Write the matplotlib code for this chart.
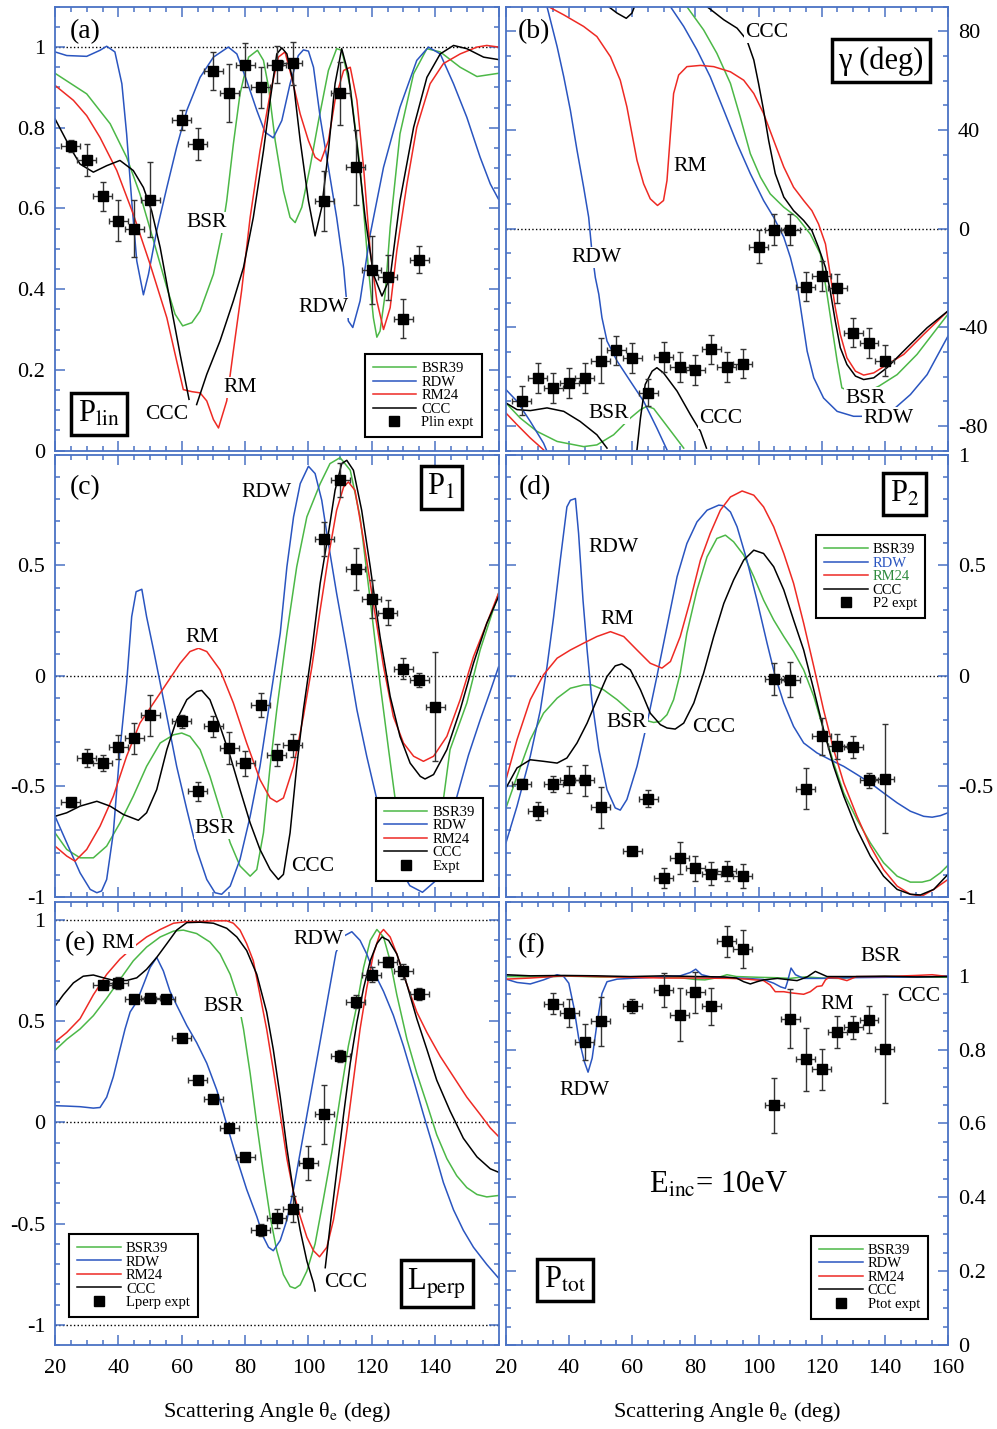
import numpy as np
import matplotlib
matplotlib.use('Agg')
import matplotlib.pyplot as plt
from matplotlib.lines import Line2D

plt.rcParams['font.family'] = ['Liberation Serif', 'DejaVu Serif']
plt.rcParams['mathtext.fontset'] = 'stix'

GREEN = '#4cb847'
BLUE = '#2a55c0'
RED = '#ee2a24'
FRAME = '#4a72c4'
gap = (np.nan, np.nan)

# ---------------- (a) P_lin ----------------
a_bsr = [(20,0.935),(30,0.884),(37.4,0.810),(42.6,0.727),(46.8,0.636),(51.1,0.520),(55.3,0.404),(57.9,0.338),
         (60.3,0.309),(63.2,0.317),(65.8,0.346),(70,0.437),(72.6,0.536),(74.2,0.619),(76.3,0.760),(78.4,0.884),
         (81.1,0.975),(83.9,0.992),(85.8,0.967),(87.4,0.901),(89.5,0.768),(92.1,0.644),(94.2,0.578),(95.8,0.565),
         (97.9,0.603),(100.5,0.702),(103.2,0.818),(106.3,0.942),(108.9,0.996),(110.5,0.992),(113.2,0.901),
         (116.3,0.702),(118.9,0.454),(120.5,0.329),(121.6,0.281),(122.6,0.296),(124.2,0.387),(125.8,0.553),
         (128.9,0.785),(133.2,0.934),(137.4,0.996),(141.6,0.988),(147.9,0.950),(153.2,0.927),(160,0.935)]
a_rdw = [(20,0.988),(23.7,0.979),(30,0.977),(34.2,0.992),(36.3,1.002),(38.9,0.988),(41.1,0.909),(42.6,0.785),
         (44.2,0.619),(45.8,0.470),(47.9,0.386),(49.5,0.437),(52.1,0.545),(55.3,0.652),(58.4,0.752),(61.6,0.843),
         (65.8,0.925),(70,0.975),(74.7,1.0),(77.4,0.983),(80.5,0.917),(83.7,0.843),(86.3,0.789),(88.9,0.775),
         (91.6,0.818),(94.2,0.909),(96.8,0.979),(98.4,0.993),(100,0.990),(101.6,0.950),(103.7,0.826),(106.3,0.702),
         (108.9,0.578),(111.1,0.454),(112.6,0.321),(114,0.305),(116.3,0.371),(119.5,0.536),(123.7,0.702),
         (128.9,0.851),(134.2,0.967),(137.9,1.0),(141.6,0.983),(145.8,0.909),(150,0.826),(154.2,0.727),
         (157.4,0.661),(160,0.623)]
a_rm = [(20,0.905),(25.8,0.868),(30,0.830),(34.2,0.776),(39.5,0.694),(44.7,0.586),(50,0.462),(55.3,0.329),
        (58.4,0.222),(60.5,0.151),(63.2,0.146),(65.8,0.143),(67.9,0.123),(70,0.077),(71.6,0.056),(74.2,0.123),
        (76.3,0.247),(78.9,0.396),(81.6,0.578),(84.7,0.743),(87.9,0.884),(90.5,0.975),(92.6,0.988),(94.7,0.925),
        (97.4,0.834),(100,0.768),(102.1,0.727),(103.9,0.717),(106.3,0.768),(108.4,0.868),(111.1,0.942),
        (113.2,0.950),(115.3,0.868),(117.4,0.702),(119.5,0.495),(121.6,0.371),(123.7,0.300),(125.8,0.354),
        (127.9,0.495),(131.1,0.661),(134.2,0.801),(138.4,0.909),(142.6,0.959),(147.9,0.983),(153.2,1.0),
        (156.3,1.004),(160,1.0)]
a_ccc = [(20,0.822),(24.7,0.752),(27.9,0.710),(32.1,0.690),(36.3,0.706),(40.5,0.719),(44.7,0.694),(47.9,0.652),
         (50.5,0.594),(53.2,0.503),(56.3,0.371),(59.5,0.238),(62.3,0.127),gap,(64.7,0.114),(67.9,0.189),
         (72.1,0.272),(76.3,0.371),(79.5,0.454),(82.6,0.578),(85.8,0.743),(87.9,0.868),(90,0.983),(91.6,0.998),
         (93.2,0.983),(95.3,0.909),(97.4,0.768),(100,0.619),(102.1,0.532),(104.2,0.603),(106.3,0.743),
         (108.4,0.909),(110.5,0.996),(112.6,0.934),(115.3,0.760),(117.9,0.578),(120.5,0.437),(123.2,0.383),
         (125.8,0.429),(128.9,0.619),(133.2,0.801),(137.4,0.925),(141.6,0.983),(145.8,1.004),(150,0.996),
         (155.3,0.975),(160,0.969)]
a_ex_x = [25,30,35,40,45,50,60,65,70,75,80,85,90,95,105,110,115,120,125,130,135]
a_ex_y = [0.754,0.720,0.630,0.570,0.550,0.622,0.819,0.759,0.940,0.887,0.956,0.900,0.956,0.960,0.618,0.885,
          0.702,0.447,0.429,0.327,0.473]
a_ex_err = [0.015,0.04,0.036,0.05,0.07,0.093,0.024,0.04,0.047,0.072,0.055,0.05,0.046,0.053,0.075,0.079,0.093,
            0.084,0.056,0.048,0.033]

# ---------------- (b) gamma ----------------
b_bsr = [(20,-70.7),(24.5,-76.8),(29.8,-82.2),(36.2,-86.3),(44.6,-88.4),(48.8,-87.7),(54.1,-83.6),(59.4,-76.8),
         (62.6,-73.4),(64.7,-72),(66.8,-73),(69.9,-78.2),(73.1,-83.6),(76.3,-89),gap,
         (77.3,90),(82.6,80.6),(86.8,71.1),(91.1,58.9),(94.2,45.3),(97.4,30.4),(100.6,20.9),(103.7,14.1),
         (108,8.7),(112.2,4.6),(116.4,-2.2),(119.6,-10.3),(121.7,-26.6),(123.3,-40.2),(124.9,-53.7),
         (126.4,-64.6),(132,-67.5),(138.1,-63.9),(143.9,-59.2),(150.2,-51),(160,-34.7)]
b_rdw = [(20,-65.3),(23.5,-70),(27.7,-78.2),(31.9,-87),(32.8,-89.7),gap,
         (33,90),(36.2,73.8),(38.3,61.6),(40.4,48),(42.5,31.8),(44.6,16.8),(46.2,4.6),(47.2,-9),(48.3,-19.8),
         (49.4,-26.6),(50.4,-36.1),(52,-45.6),(55.2,-53.7),(59.4,-61.9),(63.6,-70),(67.8,-80.9),(71,-89.7),gap,
         (72.1,90),(76.3,82),(80.5,72.5),(84.7,61.6),(89,48),(93.2,34.5),(97.4,22.3),(101.6,11.4),(104.8,4.6),
         (108,-3.5),(110.1,-11.7),(112.2,-22.5),(113.8,-36.1),(115.4,-49.7),(117.5,-60.5),(120.6,-68.7),
         (124.9,-74.1),(130.1,-76.1),(136.5,-76.1),(143.3,-72.7),(148.1,-67.3),(153.4,-59.2),(160,-43.6)]
b_rm = [(20,-74.8),(23.5,-79.5),(27.7,-84.9),(31.9,-89.7),gap,
        (33.5,90),(38.3,86.7),(44.6,82),(48.8,77.9),(53.1,69.7),(56.2,60.2),(58.3,49.4),(59.9,38.5),(61.5,27.7),
        (63.6,18.2),(65.7,12.1),(68,9.4),(69.9,11.4),(71,19.5),(72.1,38.5),(73.1,54.8),(74.7,62.3),(77.3,65.7),
        (81.6,66.2),(85.8,65.7),(91.1,63.6),(95.3,60.2),(98.5,54.8),(101.6,46.7),(104.8,35.8),(108,25),
        (111.1,16.8),(114.3,11.4),(116.9,7.3),(119,1.9),(121.2,-6.2),(122.7,-18.5),(124.3,-32),(125.9,-42.9),
        (128,-52.4),(130.7,-57.8),(133.3,-59.4),(136.5,-58.5),(140.7,-55.1),(146,-51),(152.3,-42.9),(160,-33.4)]
b_ccc = [(20,-70.7),(23.5,-73.4),(27.7,-73.8),(33,-72.7),(38.3,-74.1),(43.5,-78.2),(48.8,-83.6),(52,-89),gap,
         (52.5,90),(55.2,87.4),(58.1,85.3),(59.9,87.4),(60.7,90),gap,
         (61.5,-89.7),(62.6,-76.8),(64.1,-63.2),(66.3,-57.8),(67.8,-56.4),(69.9,-58.5),(74.2,-65.9),
         (78.4,-75.4),(81.6,-82.2),(83.5,-89),gap,
         (83.7,90),(89,84.7),(93.2,81.3),(96.3,76.5),(98.5,68.4),(100,58.9),(101.6,48),(103.2,35.8),
         (105.3,22.3),(108,12.8),(111.1,7.3),(114.3,3.3),(116.9,-0.8),(119,-7.6),(121.2,-15.7),(122.7,-25.2),
         (124.3,-37.4),(125.9,-48.3),(128,-55.1),(130.7,-59.8),(133.3,-61.2),(136.5,-60.5),(140.7,-56.4),
         (147,-48.3),(153.4,-40.2),(160,-33.4)]
b_ex_x = [25,30,35,40,45,50,55,60,65,70,75,80,85,90,95,100,105,110,115,120,125,130,135,140]
b_ex_y = [-69.7,-60.5,-64.6,-62.6,-60.5,-53.5,-49.4,-52.4,-66.6,-52.0,-56.0,-57.3,-49.0,-56.0,-54.7,-7.3,
          -0.5,-0.5,-23.5,-19.1,-24.2,-42.2,-46.3,-53.5]
b_ex_err = [5.8,6,6,6,6,9,6,6,5.5,6,6,6,6,6,6,6.8,6.3,6.3,6,6,6,6,6,6.3]

# ---------------- (c) P1 ----------------
c_bsr = [(20,-0.711),(23.7,-0.786),(27.9,-0.824),(32.1,-0.824),(36.3,-0.771),(40.5,-0.666),(44.7,-0.545),
         (48.9,-0.410),(53.2,-0.304),(57.4,-0.267),(60,-0.259),(62.6,-0.274),(65.8,-0.334),(68.9,-0.455),
         (72.1,-0.605),(75.3,-0.756),(78.4,-0.861),(81.6,-0.907),(83.7,-0.877),(85.8,-0.711),(87.9,-0.410),
         (90,-0.154),(93.2,0.193),(96.3,0.494),(99.5,0.720),(103.7,0.870),(106.8,0.961),(110,0.988),
         (113.2,0.931),(116.3,0.720),(119.5,0.343),(122.6,-0.033),(125.3,-0.334),(127.4,-0.560),(130,-0.78),
         (133,-0.9),(136,-0.93),(139,-0.87),(142.6,-0.56),(144.7,-0.334),(150,-0.123),(154.2,0.117),(160,0.373)]
c_rdw = [(20,-0.636),(23.7,-0.756),(27.9,-0.892),(31.1,-0.967),(33.2,-0.982),(34.7,-0.974),(36.3,-0.922),
         (38.4,-0.711),(40.5,-0.334),(42.6,-0.033),(44.2,0.268),(45.6,0.381),(47.4,0.392),(48.9,0.268),
         (51.1,0.117),(53.2,-0.033),(55.3,-0.184),(58.4,-0.410),(61.6,-0.605),(64.7,-0.786),(67.9,-0.922),
         (70.5,-0.982),(72.6,-0.989),(75.3,-0.952),(78.4,-0.831),(81.6,-0.636),(84.7,-0.410),(87.9,-0.108),
         (91.1,0.193),(93.2,0.494),(95.3,0.720),(97.4,0.870),(100,0.949),(102.1,0.916),(104.2,0.795),
         (106.3,0.599),(108.9,0.373),(112.1,0.117),(115.3,-0.154),(118.4,-0.364),(121.6,-0.560),(124.7,-0.711),
         (128,-0.85),(132,-0.95),(136,-0.98),(140,-0.93),(143.5,-0.78),(146.8,-0.55),(150.5,-0.36),
         (154.2,-0.2),(157.4,-0.07),(160,0.04)]
c_rm = [(20,-0.771),(23.7,-0.816),(26.3,-0.839),(30,-0.786),(34.2,-0.681),(38.4,-0.545),(42.6,-0.364),
        (46.8,-0.214),(51.1,-0.123),(55.3,-0.033),(59.5,0.057),(62.6,0.110),(65.3,0.125),(67.9,0.110),
        (72.1,0.027),(76.3,-0.123),(80.5,-0.304),(84.7,-0.470),(87.9,-0.553),(90,-0.571),(92.1,-0.553),
        (95.3,-0.410),(98.4,-0.184),(101.1,0.042),(103.7,0.298),(106.3,0.539),(108.9,0.750),(111.1,0.855),
        (112.6,0.878),(114.7,0.840),(117.4,0.614),(120.5,0.328),(123.7,0.042),(126.8,-0.184),(130,-0.304),
        (133.2,-0.364),(136.3,-0.387),(139.5,-0.364),(143.7,-0.274),(147.9,-0.108),(152.1,0.087),
        (156.3,0.238),(160,0.373)]
c_ccc = [(20,-0.636),(23.7,-0.620),(27.9,-0.590),(33.2,-0.568),(37.4,-0.590),(41.6,-0.628),(46.3,-0.654),
         (48.9,-0.620),(52.1,-0.515),(55.3,-0.334),(58.4,-0.199),(61.6,-0.108),(64.7,-0.071),(66.3,-0.066),
         (68.9,-0.108),(72.1,-0.229),(75.3,-0.364),(78.4,-0.515),(81.6,-0.666),(84.7,-0.786),(87.9,-0.877),
         (90.5,-0.922),(92.1,-0.899),(94.2,-0.711),(96.3,-0.410),(98.4,-0.154),(101.1,0.117),(103.7,0.419),
         (106.3,0.645),(108.4,0.840),(110.5,0.961),(112.1,0.976),(114.2,0.931),(116.8,0.750),(119.5,0.494),
         (122.6,0.178),(125.8,-0.093),(128.9,-0.274),(132.1,-0.395),(135.3,-0.455),(136.8,-0.467),
         (139.5,-0.447),(143.7,-0.334),(147.9,-0.154),(152.1,0.057),(156.3,0.238),(160,0.358)]
c_ex_x = [25,30,35,40,45,50,60,65,70,75,80,85,90,95,105,110,115,120,125,130,135,140]
c_ex_y = [-0.572,-0.372,-0.395,-0.324,-0.283,-0.179,-0.206,-0.523,-0.229,-0.328,-0.396,-0.131,-0.36,-0.315,
          0.619,0.887,0.483,0.348,0.286,0.033,-0.02,-0.139]
c_ex_err = [0.02,0.043,0.038,0.054,0.07,0.094,0.028,0.043,0.048,0.073,0.056,0.054,0.05,0.053,0.078,0.077,
            0.094,0.085,0.057,0.048,0.032,0.246]

# ---------------- (d) P2 ----------------
d_bsr = [(20,-0.598),(23.5,-0.455),(27.7,-0.289),(31.9,-0.169),(36.2,-0.101),(40.4,-0.056),(44.6,-0.041),
         (47.2,-0.041),(50.9,-0.063),(55.2,-0.108),(59.4,-0.161),(63.6,-0.199),(66.8,-0.211),(68.9,-0.206),
         (71,-0.176),(73.1,-0.108),(75.2,0.012),(77.3,0.193),(80.5,0.389),(83.7,0.539),(86.8,0.622),(89.5,0.637),
         (92.1,0.607),(95.3,0.547),(98.5,0.449),(101.6,0.343),(104.8,0.253),(108,0.178),(111.1,0.110),
         (114.3,0.027),(117.5,-0.093),(120.6,-0.244),(123.8,-0.395),(127,-0.530),(131.2,-0.651),(135.4,-0.756),
         (139.6,-0.846),(143.9,-0.907),(148.1,-0.934),(151.8,-0.934),(154.4,-0.925),(157.6,-0.892),(160,-0.858)]
d_rdw = [(20,-0.756),(23.5,-0.590),(27.7,-0.364),(30.9,-0.154),(33,0.042),(35.1,0.268),(37.2,0.524),
         (39.3,0.765),(40.4,0.795),(42,0.803),(43,0.645),(44.4,0.343),(45.7,0.117),(47.2,-0.108),(49.4,-0.334),
         (52,-0.515),(54.6,-0.598),(56.2,-0.608),(58.3,-0.560),(61.5,-0.410),(64.7,-0.214),(67.8,-0.003),
         (71,0.223),(74.2,0.449),(77.3,0.599),(80.5,0.697),(83.7,0.750),(87.4,0.773),(89,0.770),(91.1,0.742),
         (93.2,0.675),(96.3,0.524),(99.5,0.343),(102.7,0.148),(105.3,-0.003),(108,-0.123),(111.1,-0.229),
         (114.3,-0.304),(118.5,-0.349),(122.7,-0.380),(127,-0.410),(131.2,-0.447),(135.4,-0.485),(139.6,-0.530),
         (143.9,-0.575),(148.1,-0.613),(152.3,-0.636),(155,-0.640),(157.6,-0.633),(160,-0.620)]
d_rm = [(20,-0.470),(23.5,-0.289),(27.7,-0.108),(31.9,0.005),(36.2,0.080),(40.4,0.117),(44.6,0.148),
        (48.8,0.178),(53.1,0.200),(57.3,0.178),(61.5,0.117),(65.7,0.057),(69.4,0.035),(72.1,0.065),(75.2,0.178),
        (78.4,0.343),(81.6,0.524),(84.7,0.645),(87.9,0.750),(91.1,0.810),(94.8,0.837),(98.5,0.818),(101.6,0.765),
        (104.8,0.675),(108,0.554),(111.1,0.419),(114.3,0.238),(117.5,0.042),(120.6,-0.154),(123.8,-0.334),
        (127,-0.485),(131.2,-0.636),(135.4,-0.771),(139.6,-0.877),(143.9,-0.952),(148.1,-0.989),(151.8,-0.997),
        (155.5,-0.967),(160,-0.922)]
d_ccc = [(20,-0.508),(23.5,-0.417),(27.7,-0.380),(31.9,-0.387),(36.2,-0.395),(39.3,-0.372),(42.5,-0.304),
         (45.7,-0.214),(48.8,-0.108),(52,-0.003),(54.6,0.045),(56.7,0.054),(59.4,0.027),(62.6,-0.063),
         (65.7,-0.169),(68.9,-0.221),(71,-0.236),(73.6,-0.241),(76.3,-0.214),(79.5,-0.123),(82.6,0.012),
         (85.8,0.178),(89,0.328),(92.1,0.434),(95.3,0.524),(98.5,0.569),(101.6,0.554),(104.8,0.494),(108,0.389),
         (111.1,0.253),(114.3,0.117),(117.5,-0.063),(120.6,-0.244),(123.8,-0.410),(127,-0.545),(131.2,-0.696),
         (135.4,-0.816),(139.6,-0.907),(143.9,-0.967),(148.1,-0.989),(151.3,-0.992),(155.5,-0.967),(160,-0.899)]
d_ex_x = [25,30,35,40,45,50,60,65,70,75,80,85,90,95,105,110,115,120,125,130,135,140]
d_ex_y = [-0.489,-0.611,-0.489,-0.47,-0.473,-0.596,-0.794,-0.556,-0.914,-0.824,-0.872,-0.895,-0.884,-0.907,
          -0.014,-0.018,-0.511,-0.274,-0.319,-0.322,-0.473,-0.465]
d_ex_err = [0.02,0.04,0.036,0.06,0.07,0.093,0.015,0.04,0.045,0.071,0.056,0.051,0.047,0.053,0.074,0.079,
            0.093,0.083,0.056,0.048,0.034,0.245]

# ---------------- (e) L_perp ----------------
e_bsr = [(20,0.357),(23.7,0.411),(27.9,0.462),(32.1,0.528),(36.3,0.614),(40.5,0.707),(44.7,0.799),(48.9,0.867),
         (53.2,0.917),(57.4,0.946),(60.5,0.951),(64.7,0.934),(68.9,0.892),(72.1,0.833),(75.3,0.732),(77.4,0.631),
         (79.5,0.462),(81.6,0.243),(83.7,-0.010),(85.8,-0.246),(87.9,-0.465),(90,-0.634),(92.1,-0.752),
         (94.2,-0.811),(95.8,-0.820),(97.4,-0.803),(99.5,-0.735),(102.1,-0.600),(104.7,-0.381),(107.4,-0.145),
         (110,0.125),(112.6,0.378),(115.3,0.580),(117.4,0.766),(119.5,0.900),(121.6,0.954),(123.7,0.917),
         (125.8,0.799),(127.9,0.631),(131.1,0.411),(134.2,0.243),(137.4,0.091),(140.5,-0.061),(143.7,-0.179),
         (146.8,-0.263),(150,-0.322),(153.2,-0.356),(156.3,-0.368),(160,-0.361)]
e_rdw = [(20,0.083),(23.7,0.081),(27.9,0.078),(32.1,0.071),(34.2,0.074),(36.3,0.125),(38.4,0.226),(40.5,0.361),
         (42.1,0.462),(43.7,0.546),(45.8,0.597),(47.9,0.681),(50,0.766),(52.1,0.816),(54.2,0.749),(56.3,0.648),
         (58.4,0.580),(61.6,0.479),(64.7,0.395),(67.9,0.293),(71.1,0.159),(74.2,-0.010),(77.4,-0.179),
         (80.5,-0.331),(83.7,-0.465),(85.8,-0.567),(87.4,-0.617),(88.9,-0.634),(91.1,-0.583),(93.2,-0.482),
         (95.3,-0.331),(99.5,0.035),(103.7,0.401),(106.3,0.631),(108.7,0.841),(111,0.92),(113.7,0.943),
         (116.3,0.900),(118.4,0.833),(120.5,0.749),(123.7,0.648),(126.8,0.530),(130,0.378),(133.2,0.209),
         (136.3,0.040),(139.5,-0.128),(142.6,-0.297),(145.8,-0.432),(148.9,-0.533),(152.1,-0.617),
         (156.3,-0.702),(160,-0.769)]
e_rm = [(20,0.398),(23.7,0.445),(27.9,0.513),(32.1,0.631),(36.3,0.732),(40.5,0.808),(44.7,0.867),(48.9,0.917),
        (53.2,0.954),(57.4,0.985),(61.6,0.993),(65.8,0.993),(70,0.997),(74.2,0.997),(76.3,0.985),(78.4,0.951),
        (80.5,0.884),(82.6,0.799),(84.7,0.631),(86.8,0.462),(88.9,0.260),(91.1,0.040),(93.2,-0.179),
        (95.3,-0.347),(97.4,-0.465),(99.5,-0.567),(101.6,-0.634),(103.5,-0.664),(105.8,-0.617),(107.9,-0.482),
        (110,-0.280),(112.1,-0.044),(114.2,0.209),(116.3,0.462),(118.4,0.664),(120.5,0.833),(122.6,0.934),
        (123.7,0.954),(125.8,0.917),(127.9,0.833),(131.1,0.681),(134.2,0.546),(137.4,0.445),(141.6,0.327),
        (145.8,0.226),(150,0.125),(154.2,0.040),(157.4,-0.027),(160,-0.069)]
e_ccc = [(20,0.575),(22.6,0.631),(25.8,0.690),(28.9,0.723),(32.1,0.729),(35.3,0.715),(38.4,0.703),(42.6,0.702),
         (45.8,0.715),(48.9,0.757),(52.1,0.816),(55.3,0.884),(58.4,0.951),(61.6,0.988),(65.8,0.990),(70,0.985),
         (74.2,0.960),(77.4,0.917),(80.5,0.850),(83.7,0.732),(86.8,0.546),(88.9,0.361),(91.1,0.125),
         (93.2,-0.128),(95.3,-0.347),(97.4,-0.533),(99.5,-0.685),(101.6,-0.794),(102.1,-0.833),gap,
         (105.3,-0.718),(106.8,-0.516),(108.9,-0.246),(111.1,0.040),(113.2,0.293),(115.3,0.496),(117.4,0.664),
         (119.5,0.799),(121.6,0.884),(123.2,0.917),(125.3,0.900),(127.9,0.833),(131.1,0.681),(134.2,0.513),
         (137.4,0.361),(140.5,0.209),(144.7,0.057),(148.9,-0.078),(153.2,-0.170),(157.4,-0.229),(160,-0.246)]
e_ex_x = [35,40,45,50,55,60,65,70,75,80,85,90,95,100,105,110,115,120,125,130,135]
e_ex_y = [0.678,0.69,0.609,0.617,0.612,0.418,0.212,0.118,-0.029,-0.169,-0.533,-0.474,-0.428,-0.2,0.04,0.327,
          0.597,0.73,0.794,0.747,0.637]
e_ex_err = [0.015,0.03,0.015,0.015,0.015,0.02,0.02,0.02,0.02,0.02,0.03,0.046,0.063,0.082,0.146,0.03,0.032,
            0.038,0.024,0.038,0.03]

# ---------------- (f) P_tot ----------------
f_bsr = [(20,0.998),(30,0.997),(40,0.999),(50,0.997),(60,0.997),(70,0.996),(75,0.995),(80,0.99),(83,0.989),
         (87,0.995),(90,1.003),(93,0.998),(100,0.996),(105,0.995),(110,0.993),(113,0.996),(115,0.997),
         (120,0.994),(125,0.993),(130,0.996),(140,0.998),(150,0.997),(160,0.996)]
f_rdw = [(20,0.991),(23.5,0.982),(27.7,0.978),(31.9,0.989),(36.2,1.003),(38.3,0.998),(39.9,0.980),(41.5,0.915),
         (43,0.833),(44.8,0.768),(46,0.739),(47.3,0.777),(48.8,0.869),(50.4,0.952),(52,0.984),(55.2,0.991),
         (59.4,0.993),(64.7,0.995),(70,0.998),(75.2,1.0),(78.4,1.009),(80.1,1.018),(82,1.003),(85.8,0.995),
         (91,0.995),(96.3,0.993),(101.6,0.990),(104.8,0.980),(107,0.970),(108.5,0.966),(109.1,0.982),
         (110.3,1.021),(111.7,1.003),(114.3,0.993),(120,0.993),(130,0.995),(140,0.996),(150,0.997),(160,0.999)]
f_rm = [(20,0.991),(27.7,0.994),(38.3,1.0),(48.8,0.998),(59.4,0.996),(70,0.994),(80.5,0.994),(91,0.993),
        (96.3,0.991),(101.6,0.987),(103.7,0.975),(105.3,0.957),(108,0.957),(110.1,0.954),(112.2,0.952),
        (114.3,0.950),(116.4,0.957),(118.5,0.971),(120.1,0.973),(121.2,0.989),(122.2,0.995),(125,0.994),
        (128,0.987),(131,0.998),(140,0.998),(150,1.001),(155,1.003),(160,0.998)]
f_ccc = [(20,1.003),(27.7,1.000),(38.3,1.001),(48.8,1.0),(59.4,0.998),(70,1.0),(80,0.998),(89,0.997),(93,0.994),
         (95.3,0.984),(97.4,0.978),(99.5,0.984),(101.6,0.989),(106,0.993),(110,0.989),(112.2,0.987),
         (115.4,0.997),(118,1.012),(119.6,1.006),(121.7,0.998),(130,0.998),(140,0.999),(150,0.997),(160,0.998)]
f_ex_x = [35,40,45,50,60,70,75,80,85,90,95,105,110,115,120,125,130,135,140]
f_ex_y = [0.925,0.899,0.821,0.877,0.918,0.962,0.895,0.955,0.917,1.093,1.072,0.649,0.884,0.774,0.747,0.847,
          0.86,0.881,0.803]
f_ex_err = [0.029,0.038,0.049,0.066,0.02,0.046,0.072,0.055,0.051,0.042,0.051,0.075,0.079,0.085,0.055,0.043,
            0.03,0.036,0.148]

model_names = ['BSR39', 'RDW', 'RM24', 'CCC']
model_colors = [GREEN, BLUE, RED, 'black']
x_ticks = [20, 40, 60, 80, 100, 120, 140, 160]


def setup(ax, ylim, yticks, ylabels, yminor, right=False, bottom=False, left_panel=True):
    ax.set_xlim(20, 160)
    ax.set_ylim(*ylim)
    ax.set_yticks(yticks, ylabels)
    start = np.ceil(ylim[0] / yminor - 1e-6) * yminor
    ax.set_yticks(np.arange(start, ylim[1] + 1e-9, yminor), minor=True)
    if bottom:
        lab = x_ticks[:-1] if left_panel else x_ticks
        ax.set_xticks(lab, [str(v) for v in lab])
    else:
        ax.set_xticks(x_ticks, [])
    ax.set_xticks(np.arange(20, 161, 5), minor=True)
    ax.tick_params(which='both', direction='in', color=FRAME, top=True, right=True, left=True,
                   labelsize=16, width=1.1)
    ax.tick_params(which='major', length=7)
    ax.tick_params(which='minor', length=3.5)
    ax.tick_params(axis='y', pad=7)
    ax.tick_params(axis='x', pad=10)
    if right:
        ax.tick_params(axis='y', labelleft=False, labelright=True)
    for s in ax.spines.values():
        s.set_color(FRAME)
        s.set_linewidth(1.3)


def draw(ax, curves, ex_x, ex_y, ex_err):
    for pts, c in zip(curves, model_colors):
        arr = np.array(pts, dtype=float)
        ax.plot(arr[:, 0], arr[:, 1], color=c, lw=1.1, zorder=2)
    ax.errorbar(ex_x, ex_y, yerr=ex_err, xerr=3, fmt='s', ms=6.5, mfc='black', mec='black',
                ecolor='#333333', elinewidth=1, capsize=2.5, capthick=1, zorder=5)


def legend(ax, expt_label, loc, anchor):
    handles = [Line2D([], [], color=c, lw=1.1) for c in model_colors]
    handles.append(Line2D([], [], ls='none', marker='s', color='black', ms=6.5))
    leg = ax.legend(handles, model_names + [expt_label], loc=loc, bbox_to_anchor=anchor, fontsize=10.5,
                    fancybox=False, edgecolor='black', framealpha=1, handlelength=3.0, handletextpad=0.35,
                    labelspacing=0.02, borderpad=0.55, borderaxespad=0)
    leg.get_frame().set_linewidth(1.5)
    leg.set_zorder(6)
    return leg


def lab(ax, x, y, s, size=15.5):
    ax.text(x, y, s, fontsize=size, ha='center', va='center', zorder=4,
            bbox=dict(boxstyle='square,pad=0.05', fc='white', ec='none'))


def boxlab(ax, x, y, s, size=22):
    ax.text(x, y, s, fontsize=size, ha='center', va='center', zorder=6,
            bbox=dict(boxstyle='square,pad=0.22', fc='white', ec='black', lw=2.5))


fig = plt.figure(figsize=(9.97, 14.29), dpi=100)
lx, lw_ = 0.0552, 0.4448
rx, rw = 0.5075, 0.4433
ax_a = fig.add_axes([lx, 0.6847, lw_, 0.3106])
ax_b = fig.add_axes([rx, 0.6847, rw, 0.3106])
ax_c = fig.add_axes([lx, 0.3725, lw_, 0.3091])
ax_d = fig.add_axes([rx, 0.3725, rw, 0.3091])
ax_e = fig.add_axes([lx, 0.0588, lw_, 0.3100])
ax_f = fig.add_axes([rx, 0.0588, rw, 0.3100])

# (a)
setup(ax_a, (0, 1.1), [0, 0.2, 0.4, 0.6, 0.8, 1], ['0', '0.2', '0.4', '0.6', '0.8', '1'], 0.05)
ax_a.axhline(1, color='black', ls=':', lw=1, zorder=1)
draw(ax_a, [a_bsr, a_rdw, a_rm, a_ccc], a_ex_x, a_ex_y, a_ex_err)
legend(ax_a, 'Plin expt', 'lower right', (0.962, 0.03))
ax_a.text(29.5, 1.039, '(a)', fontsize=20, ha='center', va='center')
lab(ax_a, 67.9, 0.565, 'BSR')
lab(ax_a, 104.7, 0.354, 'RDW')
lab(ax_a, 78.4, 0.157, 'RM')
lab(ax_a, 55.3, 0.089, 'CCC')
boxlab(ax_a, 33.9, 0.091, r'P$_{\mathrm{lin}}$')

# (b)
setup(ax_b, (-90, 90), [-80, -40, 0, 40, 80], ['-80', '-40', '0', '40', '80'], 10, right=True)
ax_b.axhline(0, color='black', ls=':', lw=1, zorder=1)
draw(ax_b, [b_bsr, b_rdw, b_rm, b_ccc], b_ex_x, b_ex_y, b_ex_err)
ax_b.text(28.8, 79.9, '(b)', fontsize=20, ha='center', va='center')
lab(ax_b, 78.2, 25, 'RM')
lab(ax_b, 102.7, 79.6, 'CCC')
lab(ax_b, 48.8, -11.7, 'RDW')
lab(ax_b, 52.5, -74.8, 'BSR')
lab(ax_b, 87.9, -76.8, 'CCC')
lab(ax_b, 133.8, -68.7, 'BSR')
lab(ax_b, 141.2, -76.8, 'RDW')
boxlab(ax_b, 138.8, 68, 'γ (deg)')

# (c)
setup(ax_c, (-1, 1), [-1, -0.5, 0, 0.5], ['-1', '-0.5', '0', '0.5'], 0.1)
ax_c.axhline(0, color='black', ls=':', lw=1, zorder=1)
draw(ax_c, [c_bsr, c_rdw, c_rm, c_ccc], c_ex_x, c_ex_y, c_ex_err)
legend(ax_c, 'Expt', 'lower right', (0.965, 0.036))
ax_c.text(29.5, 0.852, '(c)', fontsize=20, ha='center', va='center')
lab(ax_c, 86.8, 0.828, 'RDW')
lab(ax_c, 66.3, 0.175, 'RM')
lab(ax_c, 70.5, -0.693, 'BSR')
lab(ax_c, 101.4, -0.864, 'CCC')
boxlab(ax_c, 141.9, 0.853, r'P$_{\mathrm{1}}$')

# (d)
setup(ax_d, (-1, 1), [-1, -0.5, 0, 0.5, 1], ['-1', '-0.5', '0', '0.5', '1'], 0.1, right=True)
ax_d.axhline(0, color='black', ls=':', lw=1, zorder=1)
draw(ax_d, [d_bsr, d_rdw, d_rm, d_ccc], d_ex_x, d_ex_y, d_ex_err)
leg = legend(ax_d, 'P2 expt', 'upper right', (0.948, 0.819))
leg.get_texts()[1].set_color(BLUE)
leg.get_texts()[2].set_color('#2e8b3e')
ax_d.text(29.3, 0.852, '(d)', fontsize=20, ha='center', va='center')
lab(ax_d, 54.1, 0.581, 'RDW')
lab(ax_d, 55.2, 0.256, 'RM')
lab(ax_d, 58.3, -0.211, 'BSR')
lab(ax_d, 85.8, -0.233, 'CCC')
boxlab(ax_d, 146.3, 0.823, r'P$_{\mathrm{2}}$')

# (e)
setup(ax_e, (-1.1, 1.09), [-1, -0.5, 0, 0.5, 1], ['-1', '-0.5', '0', '0.5', '1'], 0.1, bottom=True)
for yv in (1, 0, -1):
    ax_e.axhline(yv, color='black', ls=':', lw=1, zorder=1)
draw(ax_e, [e_bsr, e_rdw, e_rm, e_ccc], e_ex_x, e_ex_y, e_ex_err)
legend(ax_e, 'Lperp expt', 'lower left', (0.032, 0.063))
ax_e.text(27.9, 0.884, '(e)', fontsize=20, ha='center', va='center')
lab(ax_e, 40.0, 0.887, 'RM')
lab(ax_e, 103.2, 0.904, 'RDW')
lab(ax_e, 73.4, 0.575, 'BSR')
lab(ax_e, 111.6, -0.791, 'CCC')
boxlab(ax_e, 140.5, -0.796, r'L$_{\mathrm{perp}}$')
ax_e.set_xlabel(r'Scattering Angle θ$_{\mathrm{e}}$ (deg)', fontsize=16, labelpad=16)

# (f)
setup(ax_f, (0, 1.2), [0, 0.2, 0.4, 0.6, 0.8, 1], ['0', '0.2', '0.4', '0.6', '0.8', '1'], 0.05,
      right=True, bottom=True, left_panel=False)
draw(ax_f, [f_bsr, f_rdw, f_rm, f_ccc], f_ex_x, f_ex_y, f_ex_err)
legend(ax_f, 'Ptot expt', 'lower right', (0.955, 0.059))
ax_f.text(28.0, 1.081, '(f)', fontsize=20, ha='center', va='center')
lab(ax_f, 138.6, 1.051, 'BSR')
lab(ax_f, 150.7, 0.945, 'CCC')
lab(ax_f, 124.9, 0.922, 'RM')
lab(ax_f, 44.8, 0.690, 'RDW')
ax_f.text(87.4, 0.432, r'E$_{\mathrm{inc}}$= 10eV', fontsize=22, ha='center', va='center')
boxlab(ax_f, 38.7, 0.176, r'P$_{\mathrm{tot}}$')
ax_f.set_xlabel(r'Scattering Angle θ$_{\mathrm{e}}$ (deg)', fontsize=16, labelpad=16)

fig.savefig('out.png', dpi=100)
